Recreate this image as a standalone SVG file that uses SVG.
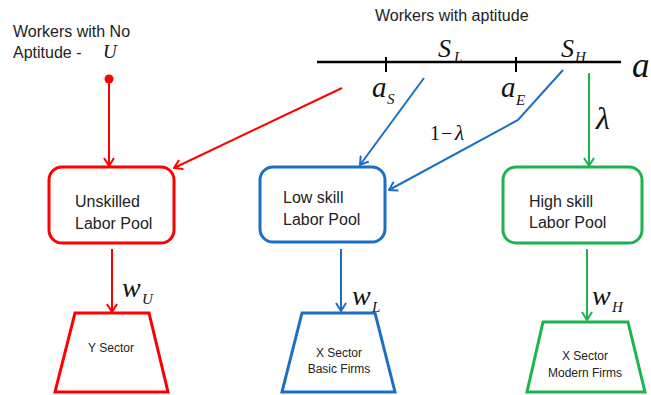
<svg xmlns="http://www.w3.org/2000/svg" width="651" height="395" viewBox="0 0 651 395">
<defs>
<style>
.t{font-family:"Liberation Sans",Arial,sans-serif;font-size:16px;fill:#222}
.s{font-family:"Liberation Sans",Arial,sans-serif;font-size:12px;fill:#222}
.m{font-family:"Liberation Serif","Times New Roman",serif;font-style:italic;fill:#111}
.up{font-family:"Liberation Serif","Times New Roman",serif;font-style:normal;fill:#111}
.box{fill:#fff;stroke-width:3}
.c{fill:none;stroke-width:2}
.red{stroke:#ff0000}
.blue{stroke:#1a6fc4}
.green{stroke:#1db34f}
</style>
<marker id="ar" viewBox="0 0 10 12" refX="9" refY="6" markerWidth="10" markerHeight="12" markerUnits="userSpaceOnUse" orient="auto"><path d="M1,1 L9,6 L1,11" fill="none" stroke="#ff0000" stroke-width="2"/></marker>
<marker id="ab" viewBox="0 0 10 12" refX="9" refY="6" markerWidth="10" markerHeight="12" markerUnits="userSpaceOnUse" orient="auto"><path d="M1,1 L9,6 L1,11" fill="none" stroke="#1a6fc4" stroke-width="2"/></marker>
<marker id="ag" viewBox="0 0 10 12" refX="9" refY="6" markerWidth="10" markerHeight="12" markerUnits="userSpaceOnUse" orient="auto"><path d="M1,1 L9,6 L1,11" fill="none" stroke="#1db34f" stroke-width="2"/></marker>
</defs>
<rect width="651" height="395" fill="#fff"/>

<g id="no-aptitude">
<text class="t" x="13" y="37">Workers with No</text>
<text class="t" x="13" y="58">Aptitude -</text>
<text class="m" x="103" y="58" font-size="19">U</text>
<circle cx="109" cy="79" r="4.5" fill="#ff0000"/>
</g>

<g id="aptitude-axis">
<text class="t" x="375" y="21">Workers with aptitude</text>
<line x1="317" y1="62" x2="621" y2="62" stroke="#000" stroke-width="2.5"/>
<line x1="386" y1="57" x2="386" y2="72" stroke="#000" stroke-width="2"/>
<line x1="516" y1="57" x2="516" y2="72" stroke="#000" stroke-width="2"/>
<text class="m" x="438" y="57" font-size="26">S</text><text class="m" x="454" y="62" font-size="15">L</text>
<text class="m" x="561" y="57" font-size="26">S</text><text class="m" x="575" y="62" font-size="15">H</text>
<text class="m" x="372" y="97" font-size="29">a</text><text class="m" x="387" y="104" font-size="15">S</text>
<text class="m" x="501" y="97" font-size="29">a</text><text class="m" x="516" y="105" font-size="15">E</text>
<text class="m" x="632" y="77" font-size="35">a</text>
<text class="up" x="430" y="140" font-size="20">1</text>
<text class="up" x="441" y="140" font-size="20">−</text>
<text class="m" x="455" y="140" font-size="21">λ</text>
<text class="m" x="596" y="129" font-size="32">λ</text>
</g>

<g id="connectors">
<line class="c red" x1="109" y1="79" x2="109" y2="166" marker-end="url(#ar)"/>
<line class="c red" x1="342" y1="88" x2="174" y2="168" marker-end="url(#ar)"/>
<line class="c red" x1="112" y1="249" x2="112" y2="312" marker-end="url(#ar)"/>
<line class="c blue" x1="424" y1="78" x2="360" y2="165" marker-end="url(#ab)"/>
<polyline class="c blue" points="563,70 518,120 389,190" marker-end="url(#ab)"/>
<line class="c blue" x1="341" y1="249" x2="341" y2="311" marker-end="url(#ab)"/>
<line class="c green" x1="589" y1="73" x2="589" y2="166" marker-end="url(#ag)"/>
<line class="c green" x1="587" y1="249" x2="587" y2="320" marker-end="url(#ag)"/>
<text class="m" x="122" y="297" font-size="28">w</text><text class="m" x="142" y="304" font-size="15">U</text>
<text class="m" x="352" y="305" font-size="28">w</text><text class="m" x="372" y="312" font-size="15">L</text>
<text class="m" x="592" y="305" font-size="28">w</text><text class="m" x="612" y="312" font-size="15">H</text>
</g>

<g id="unskilled-pool">
<rect class="box red" x="49" y="167" width="125" height="76" rx="13"/>
<text class="t" x="75" y="207">Unskilled</text>
<text class="t" x="75" y="229">Labor Pool</text>
</g>

<g id="lowskill-pool">
<rect class="box blue" x="260" y="167" width="125" height="75" rx="13"/>
<text class="t" x="283" y="203">Low skill</text>
<text class="t" x="283" y="225">Labor Pool</text>
</g>

<g id="highskill-pool">
<rect class="box green" x="503" y="167" width="139" height="76" rx="13"/>
<text class="t" x="529" y="207">High skill</text>
<text class="t" x="529" y="228">Labor Pool</text>
</g>

<g id="y-sector">
<polygon class="box red" points="75,313 149,313 168,392 55,392"/>
<text class="s" x="111" y="352" text-anchor="middle">Y Sector</text>
</g>

<g id="x-basic">
<polygon class="box blue" points="302,313 375,313 395,392 282,392"/>
<text class="s" x="339" y="357" text-anchor="middle">X Sector</text>
<text class="s" x="339" y="373" text-anchor="middle">Basic Firms</text>
</g>

<g id="x-modern">
<polygon class="box green" points="543,322 628,322 645,392 527,392"/>
<text class="s" x="585" y="360" text-anchor="middle">X Sector</text>
<text class="s" x="585" y="377" text-anchor="middle">Modern Firms</text>
</g>
</svg>
